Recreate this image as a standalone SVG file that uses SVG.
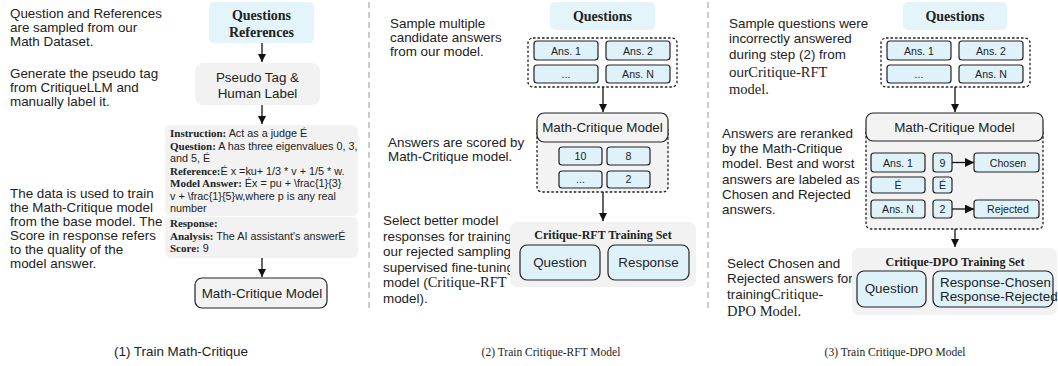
<svg xmlns="http://www.w3.org/2000/svg" width="1058" height="366" viewBox="0 0 1058 366">
<defs>
<marker id="ah" viewBox="0 0 10 10" refX="10" refY="5" markerWidth="8" markerHeight="9" markerUnits="userSpaceOnUse" orient="auto">
<path d="M0,0 L10,5 L0,10 z" fill="#111"/>
</marker>
<marker id="ahs" viewBox="0 0 10 10" refX="10" refY="5" markerWidth="9" markerHeight="9" markerUnits="userSpaceOnUse" orient="auto">
<path d="M0,0 L10,5 L0,10 z" fill="#111"/>
</marker>
</defs>
<style>
.t{font-family:"Liberation Sans",Arial,sans-serif;font-size:13.4px;fill:#222}
.s{font-family:"Liberation Serif","Times New Roman",serif;fill:#222}
.sb{font-family:"Liberation Serif","Times New Roman",serif;font-weight:bold;fill:#222}
.sm{font-family:"Liberation Sans",Arial,sans-serif;font-size:10.6px;fill:#222}
.ib{font-family:"Liberation Sans",Arial,sans-serif;font-size:10.8px;fill:#222}
.ib tspan.b{font-family:"Liberation Serif","Times New Roman",serif;font-weight:bold;font-size:11px}
.blue{fill:#e4f4fb;stroke:none}
.grey{fill:#f2f2f2;stroke:none}
.mc{fill:#f3f3f3;stroke:#222;stroke-width:1.2}
.bx{fill:#dff2fa;stroke:#222;stroke-width:1.2}
.dot{fill:none;stroke:#222;stroke-width:1.3;stroke-dasharray:2.5 2}
.dotg{fill:#f3f3f3;stroke:#222;stroke-width:1.3;stroke-dasharray:2.5 2}
.div{stroke:#999;stroke-width:1;stroke-dasharray:6 4}
.ar{stroke:#111;stroke-width:1.3;fill:none;marker-end:url(#ah)}
.ars{stroke:#111;stroke-width:1.3;fill:none;marker-end:url(#ahs)}
.c{text-anchor:middle}
</style>

<g id="dividers">
<line class="div" x1="369" y1="2" x2="369" y2="312"/>
<line class="div" x1="708" y1="2" x2="708" y2="312"/>
</g>

<g id="panel1-notes">
<text class="t" x="10" y="17.5">Question and References</text>
<text class="t" x="10" y="31.5">are sampled from our</text>
<text class="t" x="10" y="45.5">Math Dataset.</text>
<text class="t" x="10" y="78">Generate the pseudo tag</text>
<text class="t" x="10" y="92">from CritiqueLLM and</text>
<text class="t" x="10" y="106">manually label it.</text>
<text class="t" x="10" y="198">The data is used to train</text>
<text class="t" x="10" y="212">the Math-Critique model</text>
<text class="t" x="10" y="226">from the base model. The</text>
<text class="t" x="10" y="240">Score in response refers</text>
<text class="t" x="10" y="254">to the quality of the</text>
<text class="t" x="10" y="268">model answer.</text>
</g>

<g id="p1-questions">
<rect class="blue" x="209" y="2" width="105" height="41" rx="5"/>
<text class="sb c" x="261.5" y="20" font-size="14">Questions</text>
<text class="sb c" x="261.5" y="37" font-size="14">References</text>
</g>
<g id="p1-pseudo">
<rect class="grey" x="195" y="63" width="125" height="42" rx="8"/>
<text class="t c" x="257.5" y="82">Pseudo Tag &amp;</text>
<text class="t c" x="257.5" y="98">Human Label</text>
</g>
<g id="p1-data">
<rect class="grey" x="165" y="125" width="193" height="91" rx="6"/>
<rect class="grey" x="165" y="217" width="193" height="41" rx="6"/>
<text class="ib" x="170" y="137"><tspan class="b">Instruction:</tspan> Act as a judge É</text>
<text class="ib" x="170" y="149.5"><tspan class="b">Question:</tspan> A has three eigenvalues 0, 3,</text>
<text class="ib" x="170" y="162">and 5, É</text>
<text class="ib" x="170" y="174.5"><tspan class="b">Reference:</tspan>É x =ku+ 1/3 * v + 1/5 * w.</text>
<text class="ib" x="170" y="187"><tspan class="b">Model Answer:</tspan> Éx = pu + \frac{1}{3}</text>
<text class="ib" x="170" y="199.5">v + \frac{1}{5}w,where p is any real</text>
<text class="ib" x="170" y="212">number</text>
<text class="ib" x="170" y="227"><tspan class="b">Response:</tspan></text>
<text class="ib" x="170" y="239.5"><tspan class="b">Analysis:</tspan> The AI assistant's answerÉ</text>
<text class="ib" x="170" y="252"><tspan class="b">Score:</tspan> 9</text>
</g>
<g id="p1-model">
<rect class="mc" x="195" y="278" width="132" height="30" rx="7"/>
<text class="t c" x="262" y="298">Math-Critique Model</text>
</g>

<g id="panel2-notes">
<text class="t" x="390" y="28">Sample multiple</text>
<text class="t" x="390" y="42">candidate answers</text>
<text class="t" x="390" y="55.5">from our model.</text>
<text class="t" x="388" y="147">Answers are scored by</text>
<text class="t" x="388" y="161">Math-Critique model.</text>
<text class="t" x="383" y="225">Select better model</text>
<text class="t" x="383" y="240.5">responses for training</text>
<text class="t" x="383" y="256">our rejected sampling</text>
<text class="t" x="383" y="271.5">supervised fine-tuning</text>
<text class="t" x="383" y="287">model (<tspan class="s" font-size="14.5">Critique-RFT</tspan></text>
<text class="t" x="383" y="302.5">model).</text>
</g>

<g id="p2-questions">
<rect class="blue" x="550" y="2" width="105" height="28" rx="5"/>
<text class="sb c" x="602.5" y="21" font-size="14">Questions</text>
</g>
<g id="p2-answers">
<rect class="dot" x="528" y="38" width="149" height="49" rx="5"/>
<rect class="bx" x="534" y="41" width="64" height="19" rx="3"/>
<rect class="bx" x="606" y="41" width="64" height="19" rx="3"/>
<rect class="bx" x="534" y="65" width="64" height="18" rx="3"/>
<rect class="bx" x="606" y="65" width="64" height="18" rx="3"/>
<text class="sm c" x="566" y="54.5">Ans. 1</text>
<text class="sm c" x="638" y="54.5">Ans. 2</text>
<text class="sm c" x="566" y="78">...</text>
<text class="sm c" x="638" y="78">Ans. N</text>
</g>
<g id="p2-scoring">
<rect class="dotg" x="537" y="126" width="131" height="66" rx="5"/>
<rect class="mc" x="537" y="113" width="131" height="29" rx="7"/>
<text class="t c" x="602.5" y="132">Math-Critique Model</text>
<rect class="bx" x="559" y="147" width="43" height="18" rx="3"/>
<rect class="bx" x="607" y="147" width="43" height="18" rx="3"/>
<rect class="bx" x="559" y="171" width="43" height="17" rx="3"/>
<rect class="bx" x="607" y="171" width="43" height="17" rx="3"/>
<text class="sm c" x="580.5" y="160">10</text>
<text class="sm c" x="628.5" y="160">8</text>
<text class="sm c" x="580.5" y="183">...</text>
<text class="sm c" x="628.5" y="183">2</text>
</g>
<g id="p2-trainset">
<rect class="grey" x="510" y="222" width="186" height="65" rx="7"/>
<text class="sb c" x="603" y="239" font-size="12">Critique-RFT Training Set</text>
<rect class="bx" x="520" y="245" width="80" height="35" rx="7"/>
<rect class="bx" x="608" y="245" width="81" height="35" rx="7"/>
<text class="t c" x="560" y="267" font-size="13.5">Question</text>
<text class="t c" x="648.5" y="267" font-size="13.5">Response</text>
</g>

<g id="panel3-notes">
<text class="t" x="729" y="28">Sample questions were</text>
<text class="t" x="729" y="43">incorrectly answered</text>
<text class="t" x="729" y="59">during step (2) from</text>
<text class="t" x="729" y="77">our<tspan class="s" font-size="14.5">Critique-RFT</tspan></text>
<text class="s" x="729" y="94" font-size="14.5">model.</text>
<text class="t" x="722" y="138">Answers are reranked</text>
<text class="t" x="722" y="153">by the Math-Critique</text>
<text class="t" x="722" y="168">model. Best and worst</text>
<text class="t" x="722" y="183.5">answers are labeled as</text>
<text class="t" x="722" y="199">Chosen and Rejected</text>
<text class="t" x="722" y="214">answers.</text>
<text class="t" x="727" y="268">Select Chosen and</text>
<text class="t" x="727" y="283">Rejected answers for</text>
<text class="t" x="727" y="299">training<tspan class="s" font-size="14.5">Critique-</tspan></text>
<text class="s" x="727" y="316" font-size="14.5">DPO Model.</text>
</g>

<g id="p3-questions">
<rect class="blue" x="903" y="2" width="104" height="28" rx="5"/>
<text class="sb c" x="955" y="21" font-size="14">Questions</text>
</g>
<g id="p3-answers">
<rect class="dot" x="881" y="38" width="149" height="49" rx="5"/>
<rect class="bx" x="887" y="41" width="64" height="19" rx="3"/>
<rect class="bx" x="959" y="41" width="64" height="19" rx="3"/>
<rect class="bx" x="887" y="65" width="64" height="18" rx="3"/>
<rect class="bx" x="959" y="65" width="64" height="18" rx="3"/>
<text class="sm c" x="919" y="54.5">Ans. 1</text>
<text class="sm c" x="991" y="54.5">Ans. 2</text>
<text class="sm c" x="919" y="78">...</text>
<text class="sm c" x="991" y="78">Ans. N</text>
</g>
<g id="p3-ranking">
<rect class="dotg" x="866" y="126" width="177" height="103" rx="5"/>
<rect class="mc" x="866" y="113" width="177" height="28" rx="7"/>
<text class="t c" x="954.5" y="131.5">Math-Critique Model</text>
<rect class="bx" x="871" y="153" width="54" height="19" rx="3"/>
<rect class="bx" x="933" y="153" width="19" height="19" rx="3"/>
<rect class="bx" x="974" y="153" width="65" height="19" rx="3"/>
<rect class="bx" x="871" y="177" width="54" height="16" rx="3"/>
<rect class="bx" x="933" y="177" width="19" height="16" rx="3"/>
<rect class="bx" x="871" y="200" width="54" height="18" rx="3"/>
<rect class="bx" x="933" y="200" width="19" height="18" rx="3"/>
<rect class="bx" x="974" y="200" width="65" height="18" rx="3"/>
<text class="sm c" x="898" y="166.5">Ans. 1</text>
<text class="sm c" x="942.5" y="166.5">9</text>
<text class="sm c" x="1008" y="166.5">Chosen</text>
<text class="sm c" x="898" y="189">É</text>
<text class="sm c" x="942.5" y="189">É</text>
<text class="sm c" x="898" y="213">Ans. N</text>
<text class="sm c" x="942.5" y="213">2</text>
<text class="sm c" x="1008" y="213">Rejected</text>
</g>
<g id="p3-trainset">
<rect class="grey" x="852" y="248" width="205" height="67" rx="7"/>
<text class="sb c" x="955" y="266" font-size="12">Critique-DPO Training Set</text>
<rect class="bx" x="857" y="271" width="69" height="36" rx="7"/>
<rect class="bx" x="933" y="271" width="120" height="36" rx="7"/>
<text class="t c" x="891.5" y="293" font-size="13.5">Question</text>
<text class="t" x="940" y="287">Response-Chosen</text>
<text class="t" x="940" y="301">Response-Rejected</text>
</g>

<g id="connectors">
<line class="ar" x1="262" y1="43" x2="262" y2="62"/>
<line class="ar" x1="262" y1="105" x2="262" y2="124"/>
<line class="ar" x1="262" y1="258" x2="262" y2="277"/>
<line class="ar" x1="603" y1="87" x2="603" y2="112"/>
<line class="ar" x1="603" y1="192" x2="603" y2="221"/>
<line class="ar" x1="955" y1="87" x2="955" y2="112"/>
<line class="ars" x1="952" y1="162.5" x2="974" y2="162.5"/>
<line class="ars" x1="952" y1="209" x2="974" y2="209"/>
<line class="ar" x1="955" y1="229" x2="955" y2="247"/>
</g>

<g id="captions">
<text class="t c" x="181" y="356" font-size="10.5">(1) Train Math-Critique</text>
<text class="s c" x="551" y="356" font-size="11.5">(2) Train Critique-RFT Model</text>
<text class="s c" x="895" y="356" font-size="11.5">(3) Train Critique-DPO Model</text>
</g>
</svg>
